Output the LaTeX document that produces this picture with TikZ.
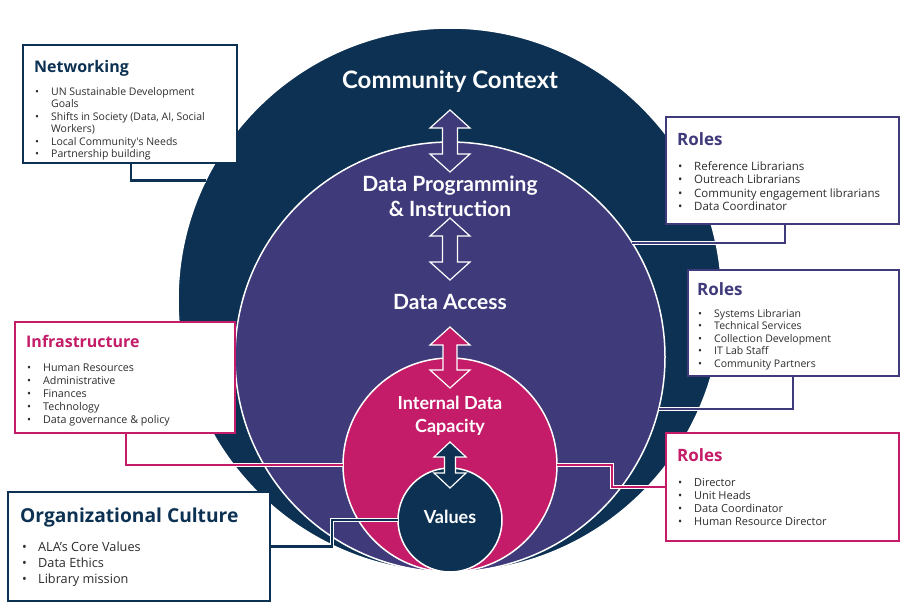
\documentclass[tikz,border=0pt]{standalone}
\usepackage{fontspec}
\setmainfont{Open Sans}
\newfontfamily\latofont{Lato}
\usetikzlibrary{calc,positioning}

\definecolor{navy}{RGB}{12,49,82}
\definecolor{plum}{RGB}{63,58,122}
\definecolor{berry}{RGB}{196,28,104}
\definecolor{bodytext}{RGB}{45,45,45}

% one bullet line, and a wrapped continuation line
\newcommand{\bl}[1]{\makebox[16pt][l]{\textbullet}#1}
\newcommand{\cont}[1]{\hspace*{16pt}#1}

% vertical two-headed block arrow: x, top, bottom, half head, half shaft, head length, fill
\newcommand{\dblarrow}[7]{%
  \draw[white, line width=1.2pt, fill=#7, line join=miter]
    (#1,#2) -- (#1+#4,#2+#6) -- (#1+#5,#2+#6) -- (#1+#5,#3-#6) -- (#1+#4,#3-#6)
    -- (#1,#3) -- (#1-#4,#3-#6) -- (#1-#5,#3-#6) -- (#1-#5,#2+#6) -- (#1-#4,#2+#6) -- cycle;}

\tikzset{
  ring/.style={circle, fill=#1, draw=white, line width=1.5pt, inner sep=0pt, outer sep=0pt},
  infobox/.style={draw=#1, line width=2.5pt, fill=white, inner sep=0pt, outer sep=0pt, anchor=north west},
  boxtitle/.style={text=#1, font=\bfseries\fontsize{16}{19}\selectfont, anchor=west, inner sep=0pt},
  boxlist/.style={text=bodytext, align=left, anchor=north west, inner sep=0pt},
  ringlabel/.style={text=white, align=center, inner sep=0pt},
  link/.style={draw=white, double=#1, double distance=2.6pt, line width=0.8pt, line join=miter},
}

\begin{document}
\begin{tikzpicture}[x=1pt, y=-1pt]
  \useasboundingbox (0,0) rectangle (901,613);

  % nested circles
  \node[ring=navy, minimum size=544pt] (context) at (450,300) {};
  \node[ring=plum, minimum size=430pt] (programme) at (450,357) {};
  \node[ring=berry, minimum size=214pt] (capacity) at (450,465) {};
  \node[ring=navy, minimum size=104pt] (core) at (450,520) {};

  % boxes
  \node[infobox=navy, minimum width=214pt, minimum height=118pt] (net) at (23,45) {};
  \node[infobox=plum, minimum width=233pt, minimum height=107pt] (rolesa) at (666,117) {};
  \node[infobox=plum, minimum width=211pt, minimum height=106pt] (rolesb) at (688,270) {};
  \node[infobox=berry, minimum width=220pt, minimum height=111pt] (infra) at (15,322) {};
  \node[infobox=berry, minimum width=233pt, minimum height=108pt] (rolesc) at (666,433) {};
  \node[infobox=navy, minimum width=262pt, minimum height=109pt] (org) at (8,492) {};

  % connectors
  \draw[link=navy] ($(net.south west)+(108,-1)$) |- (context.154.5);
  \draw[link=plum] ($(rolesa.south west)+(119,-1)$) |- (programme.32.6);
  \draw[link=plum] ($(rolesb.south west)+(105,-1)$) |- (programme.-14);
  \draw[link=berry] ($(infra.south west)+(111,-1)$) |- (capacity.180);
  \draw[link=berry] (capacity.0) -- ++(55,0) |- ($(rolesc.west)+(1,0)$);
  \draw[link=navy] ($(org.east)+(-1,0)$) -- ++(63,0) |- (core.180);

  % redraw box frames over the connector ends
  \foreach \b/\c in {net/navy, rolesa/plum, rolesb/plum, infra/berry, rolesc/berry, org/navy}
    \draw[\c, line width=2.5pt] (\b.north west) rectangle (\b.south east);

  % box texts
  \node[boxtitle=navy] (nettitle) at ($(net.north west)+(11,23)$) {Networking};
  \node[boxlist, font=\fontsize{10.5}{12.5}\selectfont] (netlist) at ($(net.north west)+(12,42)$)
    {\bl{UN Sustainable Development}\\ \cont{Goals}\\ \bl{Shifts in Society (Data, AI, Social}\\
     \cont{Workers)}\\ \bl{Local Community\textquotesingle s Needs}\\ \bl{Partnership building}};

  \node[boxtitle=plum, font=\bfseries\fontsize{17}{20}\selectfont] (rolesatitle) at ($(rolesa.north west)+(11,22)$) {Roles};
  \node[boxlist, font=\fontsize{11.5}{13.6}\selectfont] (rolesalist) at ($(rolesa.north west)+(12,44)$)
    {\bl{Reference Librarians}\\ \bl{Outreach Librarians}\\ \bl{Community engagement librarians}\\
     \bl{Data Coordinator}};

  \node[boxtitle=plum, font=\bfseries\fontsize{17}{20}\selectfont] (rolesbtitle) at ($(rolesb.north west)+(9,19)$) {Roles};
  \node[boxlist, font=\fontsize{10.5}{12.5}\selectfont] (rolesblist) at ($(rolesb.north west)+(10,39)$)
    {\bl{Systems Librarian}\\ \bl{Technical Services}\\ \bl{Collection Development}\\
     \bl{IT Lab Staff}\\ \bl{Community Partners}};

  \node[boxtitle=berry] (infratitle) at ($(infra.north west)+(11,19)$) {Infrastructure};
  \node[boxlist, font=\fontsize{10.7}{13}\selectfont] (infralist) at ($(infra.north west)+(12,42)$)
    {\bl{Human Resources}\\ \bl{Administrative}\\ \bl{Finances}\\ \bl{Technology}\\
     \bl{Data governance \& policy}};

  \node[boxtitle=berry, font=\bfseries\fontsize{17}{20}\selectfont] (rolesctitle) at ($(rolesc.north west)+(11,22)$) {Roles};
  \node[boxlist, font=\fontsize{11}{13}\selectfont] (rolesclist) at ($(rolesc.north west)+(12,45)$)
    {\bl{Director}\\ \bl{Unit Heads}\\ \bl{Data Coordinator}\\ \bl{Human Resource Director}};

  \node[boxtitle=navy, font=\bfseries\fontsize{19.2}{22}\selectfont] (orgtitle) at ($(org.north west)+(12,26)$) {Organizational Culture};
  \node[boxlist, font=\fontsize{12.7}{16}\selectfont] (orglist) at ($(org.north west)+(14,50)$)
    {\bl{ALA’s Core Values}\\ \bl{Data Ethics}\\ \bl{Library mission}};

  % circle texts
  \node[ringlabel, font=\latofont\bfseries\fontsize{24}{28}\selectfont] (contextlabel) at (450,82) {Community Context};
  \node[ringlabel, font=\latofont\bfseries\fontsize{21}{25}\selectfont] (proglabel) at (450,196) {Data Programming\\\& Instruction};
  \node[ringlabel, font=\latofont\bfseries\fontsize{21}{25}\selectfont] (accesslabel) at (450,302) {Data Access};
  \node[ringlabel, font=\latofont\bfseries\fontsize{18}{23}\selectfont] (capacitylabel) at (450,416) {Internal Data\\Capacity};
  \node[ringlabel, font=\latofont\bfseries\fontsize{18}{20}\selectfont] (corelabel) at (450,517) {Values};

  % block arrows between the levels
  \dblarrow{450}{110}{172}{20}{7.5}{18}{plum}
  \dblarrow{450}{218}{280}{20}{7.5}{18}{plum}
  \dblarrow{450}{327}{388}{20}{7}{18}{berry}
  \dblarrow{450}{442}{488}{16}{5.5}{15}{navy}
\end{tikzpicture}
\end{document}
